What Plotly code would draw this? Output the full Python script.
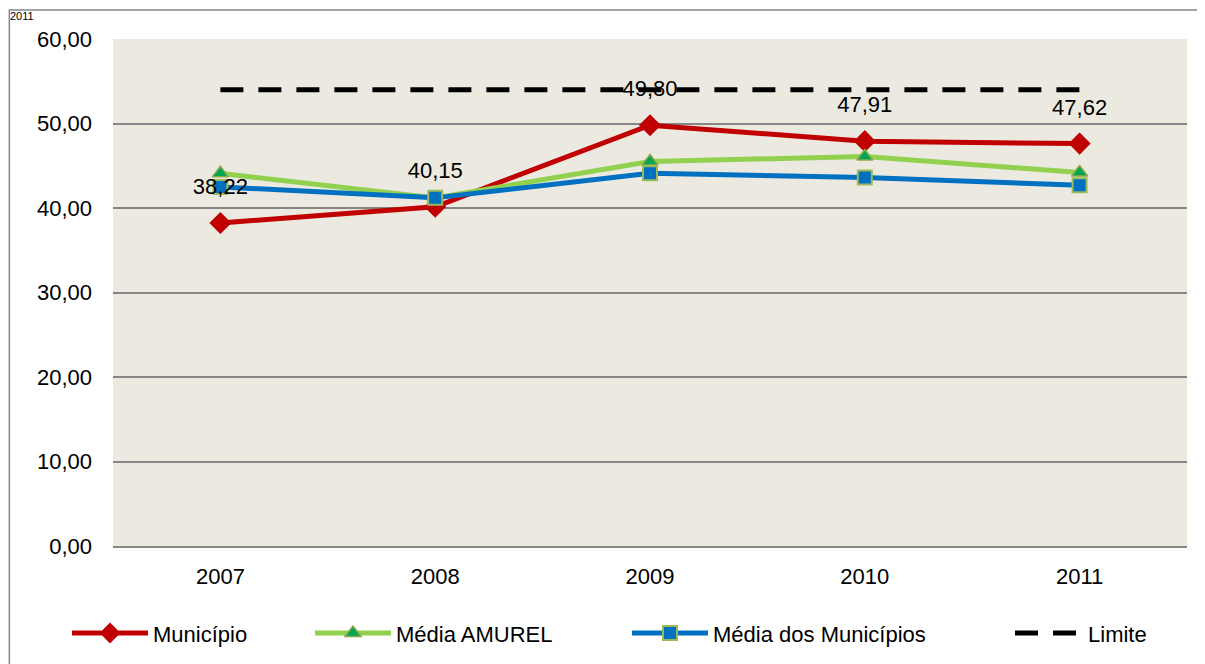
import plotly.graph_objects as go

years = ["2007", "2008", "2009", "2010", "2011"]
municipio = [38.22, 40.15, 49.80, 47.91, 47.62]
media_amurel = [44.1, 41.2, 45.5, 46.1, 44.2]
media_municipios = [42.5, 41.2, 44.1, 43.6, 42.7]
limite = [54, 54, 54, 54, 54]

FONT = "Liberation Sans, Arial, sans-serif"
FS = 22

fig = go.Figure()

fig.add_trace(go.Scatter(
    x=years, y=municipio, name="Município", mode="lines+markers",
    line=dict(color="#C00000", width=5),
    marker=dict(symbol="diamond", size=17, color="#C00000"),
    legend="legend",
))
fig.add_trace(go.Scatter(
    x=years, y=media_amurel, name="Média AMUREL", mode="lines+markers",
    line=dict(color="#92D050", width=5),
    marker=dict(symbol="triangle-up", size=14, color="#00A651",
                line=dict(color="#8DA94A", width=1.5)),
    legend="legend2",
))
fig.add_trace(go.Scatter(
    x=years, y=media_municipios, name="Média dos Municípios", mode="lines+markers",
    line=dict(color="#0070C0", width=5),
    marker=dict(symbol="square", size=14, color="#0070C0",
                line=dict(color="#9BBB59", width=2)),
    legend="legend3",
))
# data labels for Município
fig.add_trace(go.Scatter(
    x=years, y=municipio, mode="markers+text", showlegend=False,
    marker=dict(size=36, opacity=0),
    texttemplate="%{y:.2f}", textposition="top center",
    textfont=dict(family=FONT, size=FS, color="#000000"),
    hoverinfo="skip",
))
fig.add_trace(go.Scatter(
    x=years, y=limite, name="Limite", mode="lines",
    line=dict(color="#000000", width=5, dash="23px,15px"),
    legend="legend4",
))


def leg(x, w):
    return dict(orientation="h", x=x, y=-0.172, xanchor="left", yanchor="middle",
                font=dict(family=FONT, size=FS), itemwidth=w,
                bgcolor="rgba(0,0,0,0)")


fig.update_layout(
    width=1197, height=656,
    margin=dict(l=105, r=18, t=31, b=118, autoexpand=False),
    paper_bgcolor="#FFFFFF",
    plot_bgcolor="#ECEAE0",
    separators=",.",
    font=dict(family=FONT, size=FS, color="#000000"),
    showlegend=True,
    legend=leg(-0.0428, 76),
    legend2=leg(0.1834, 76),
    legend3=leg(0.4786, 76),
    legend4=leg(0.8352, 68),
    xaxis=dict(type="category", range=[-0.5, 4.5], showgrid=False,
               showline=True, linecolor="#868686", linewidth=1.5,
               ticks="", tickfont=dict(family=FONT, size=FS),
               ticklabelstandoff=10),
    yaxis=dict(range=[0, 60], dtick=10, tickformat=".2f",
               showgrid=True, gridcolor="#868686", gridwidth=1.5,
               zeroline=False, showline=False, ticks="",
               tickfont=dict(family=FONT, size=FS), ticklabelstandoff=20),
    shapes=[dict(type="rect", xref="paper", yref="paper",
                 x0=-0.0965, x1=1.03, y0=-0.26, y1=1.0572,
                 line=dict(color="#868686", width=1.5), layer="below")],
    annotations=[dict(text="2011", xref="paper", yref="paper",
                      x=-0.0975, y=1.0611, xanchor="left", yanchor="top",
                      showarrow=False, font=dict(family=FONT, size=11))],
)

fig.write_html("out.html")
